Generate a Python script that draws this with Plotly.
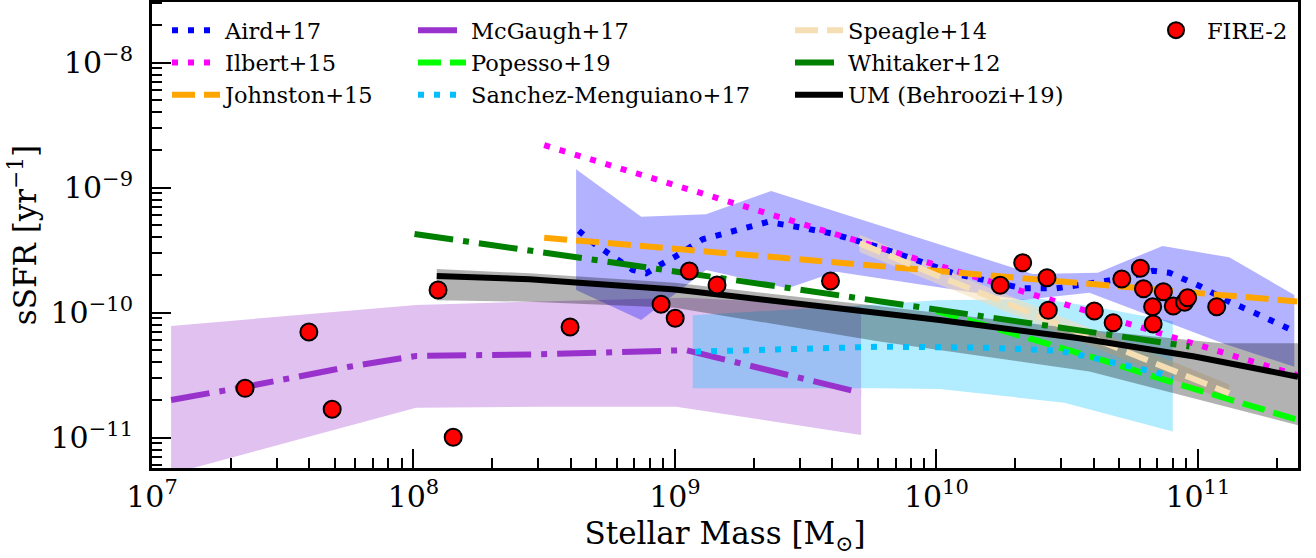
import plotly.graph_objects as go

FONT = "DejaVu Serif"

# ---------------- data (log10 stellar mass, log10 sSFR) ----------------
AIRD_LOGM = [8.632, 8.686, 8.839, 8.890, 8.947, 9.001, 9.106, 9.170, 9.355, 9.476, 9.597, 9.782,
             10.075, 10.330, 10.458, 10.585, 10.712, 10.827, 10.891, 11.006, 11.120, 11.235, 11.350, 11.381]
AIRD_LOGS = [-9.344, -9.44, -9.658, -9.685, -9.613, -9.552, -9.413, -9.378, -9.274, -9.317, -9.365, -9.477,
             -9.69, -9.805, -9.805, -9.766, -9.725, -9.664, -9.68, -9.786, -9.912, -10.018, -10.13, -10.16]
AIRD_UP_LOGM = [8.622, 8.871, 9.119, 9.368, 10.368, 10.617, 10.865, 11.120, 11.369]
AIRD_UP_LOGS = [-8.853, -9.232, -9.213, -9.026, -9.69, -9.68, -9.466, -9.557, -9.858]
AIRD_LO_LOGM = [8.622, 8.871, 9.119, 9.431, 9.617, 9.782, 10.329, 10.585, 11.095, 11.369]
AIRD_LO_LOGS = [-9.818, -10.058, -9.658, -9.805, -9.672, -9.725, -9.898, -9.84, -10.245, -10.432]

ILBERT_LOGM = [8.50, 9.00, 10.00, 11.00, 11.38]
ILBERT_LOGS = [-8.66, -8.98, -9.62, -10.26, -10.50]

JOHNSTON_LOGM = [8.50, 9.00, 10.00, 11.00, 11.38]
JOHNSTON_LOGS = [-9.40, -9.49, -9.66, -9.84, -9.91]

MCGAUGH_LOGM = [7.073, 7.360, 7.755, 8.010, 8.482, 9.043, 9.712]
MCGAUGH_LOGS = [-10.698, -10.592, -10.432, -10.346, -10.333, -10.30, -10.64]
MCGAUGH_UP_LOGM = [7.073, 8.010, 8.482, 9.043, 9.712]
MCGAUGH_UP_LOGS = [-10.106, -9.938, -9.91, -9.88, -9.95]
MCGAUGH_LO_LOGM = [7.073, 8.010, 8.482, 9.005, 9.712]
MCGAUGH_LO_LOGS = [-11.29, -10.76, -10.752, -10.752, -10.978]

POPESSO_LOGM = [10.00, 10.40, 10.642, 10.885, 11.12, 11.383]
POPESSO_LOGS = [-9.985, -10.232, -10.384, -10.546, -10.693, -10.858]

SANCHEZ_LOGM = [9.077, 9.50, 9.782, 10.20, 10.470, 10.597, 10.725, 10.853, 10.904]
SANCHEZ_LOGS = [-10.312, -10.29, -10.272, -10.28, -10.304, -10.36, -10.426, -10.485, -10.525]
SANCHEZ_UP_LOGM = [9.068, 9.50, 9.80, 10.00, 10.40, 10.60, 10.904]
SANCHEZ_UP_LOGS = [-10.02, -9.97, -9.93, -9.90, -9.89, -9.95, -10.07]
SANCHEZ_LO_LOGM = [9.068, 9.782, 10.012, 10.489, 10.904]
SANCHEZ_LO_LOGS = [-10.605, -10.605, -10.61, -10.72, -10.95]

SPEAGLE_LOGM = [9.706, 10.00, 10.50, 11.120]
SPEAGLE_LOGS = [-9.445, -9.70, -10.12, -10.645]
SPEAGLE_UP_LOGS = [-9.375, -9.63, -10.05, -10.575]
SPEAGLE_LO_LOGS = [-9.515, -9.77, -10.19, -10.715]

WHITAKER_LOGM = [8.004, 8.444, 9.00, 9.82, 10.40, 10.904, 10.968]
WHITAKER_LOGS = [-9.37, -9.498, -9.67, -9.92, -10.10, -10.245, -10.27]

UM_LOGM = [8.089, 8.444, 9.00, 9.782, 10.012, 10.547, 10.987, 11.383]
UM_LOGS = [-9.706, -9.733, -9.815, -10.00, -10.058, -10.205, -10.35, -10.512]
UM_UP_LOGM = [8.089, 8.444, 9.00, 9.782, 10.547, 11.09, 11.383]
UM_UP_LOGS = [-9.65, -9.685, -9.76, -9.95, -10.13, -10.245, -10.245]
UM_LO_LOGM = [8.089, 8.444, 9.00, 9.782, 10.585, 11.383]
UM_LO_LOGS = [-9.90, -9.912, -9.96, -10.23, -10.47, -10.90]

FIRE_LOGM = [7.356, 7.600, 7.689, 8.094, 8.152, 8.599, 8.947, 9.001, 9.055, 9.161, 9.595,
             10.244, 10.330, 10.423, 10.428, 10.604, 10.676, 10.709, 10.780, 10.792, 10.827,
             10.829, 10.868, 10.906, 10.949, 10.961, 11.072]
FIRE_LOGS = [-10.605, -10.154, -10.773, -9.818, -10.997, -10.114, -9.933, -10.045, -9.666, -9.778, -9.746,
             -9.781, -9.60, -9.72, -9.981, -9.986, -10.08, -9.73, -9.645, -9.808, -9.952,
             -10.09, -9.832, -9.946, -9.917, -9.88, -9.952]

X_RANGE_LOG = [7.0, 11.383]
Y_RANGE_LOG = [-11.2424, -7.5144]
X_DECADES = [7, 8, 9, 10, 11]
Y_DECADES = [-11, -10, -9, -8]
Y_MINOR_DECADES = [-12, -11, -10, -9, -8]


def lin(vals):
    return [10.0 ** v for v in vals]


def pow_label(e):
    s = str(e).replace("-", "\u2212")
    return "10<sup>" + s + "</sup>"


DOT = "6px,10px"
DASH = "23px,9px"
DASHDOT = "39px,10px,6px,10px"
LW = 6

fig = go.Figure()


def add_band(xu, yu, xl, yl, color):
    fig.add_trace(go.Scatter(
        x=lin(xu) + lin(xl)[::-1], y=lin(yu) + lin(yl)[::-1],
        mode="lines", fill="toself", fillcolor=color, line=dict(width=0),
        showlegend=False, hoverinfo="skip"))


def add_line(xm, ys, name, color, dash, legend):
    fig.add_trace(go.Scatter(
        x=lin(xm), y=lin(ys), mode="lines", name=name,
        line=dict(color=color, width=LW, dash=dash), legend=legend))


# bands
add_band(MCGAUGH_UP_LOGM, MCGAUGH_UP_LOGS, MCGAUGH_LO_LOGM, MCGAUGH_LO_LOGS, "rgba(153,50,204,0.3)")
add_band(SANCHEZ_UP_LOGM, SANCHEZ_UP_LOGS, SANCHEZ_LO_LOGM, SANCHEZ_LO_LOGS, "rgba(0,191,255,0.3)")
add_band(AIRD_UP_LOGM, AIRD_UP_LOGS, AIRD_LO_LOGM, AIRD_LO_LOGS, "rgba(0,0,255,0.3)")
add_band(SPEAGLE_LOGM, SPEAGLE_UP_LOGS, SPEAGLE_LOGM, SPEAGLE_LO_LOGS, "rgba(245,222,179,0.55)")
add_band(UM_UP_LOGM, UM_UP_LOGS, UM_LO_LOGM, UM_LO_LOGS, "rgba(0,0,0,0.3)")

# lines
add_line(AIRD_LOGM, AIRD_LOGS, "Aird+17", "blue", DOT, "legend")
add_line(ILBERT_LOGM, ILBERT_LOGS, "Ilbert+15", "magenta", DOT, "legend")
add_line(JOHNSTON_LOGM, JOHNSTON_LOGS, "Johnston+15", "orange", DASH, "legend")
add_line(MCGAUGH_LOGM, MCGAUGH_LOGS, "McGaugh+17", "darkorchid", DASHDOT, "legend2")
add_line(POPESSO_LOGM, POPESSO_LOGS, "Popesso+19", "lime", DASH, "legend2")
add_line(SANCHEZ_LOGM, SANCHEZ_LOGS, "Sanchez-Menguiano+17", "deepskyblue", DOT, "legend2")
add_line(SPEAGLE_LOGM, SPEAGLE_LOGS, "Speagle+14", "wheat", DASH, "legend3")
add_line(WHITAKER_LOGM, WHITAKER_LOGS, "Whitaker+12", "green", DASHDOT, "legend3")
add_line(UM_LOGM, UM_LOGS, "UM (Behroozi+19)", "black", "solid", "legend3")

fig.add_trace(go.Scatter(
    x=lin(FIRE_LOGM), y=lin(FIRE_LOGS), mode="markers", name="FIRE-2",
    marker=dict(color="red", size=17, line=dict(color="black", width=2)),
    legend="legend4"))

minor_x = [m * 10.0 ** d for d in X_DECADES for m in range(2, 10)]
minor_y = [m * 10.0 ** d for d in Y_MINOR_DECADES for m in range(2, 10)]

axis_common = dict(
    type="log", showgrid=False, zeroline=False, automargin=False,
    showline=True, linewidth=3, linecolor="black", mirror=True,
    ticks="inside", ticklen=19, tickwidth=2, tickcolor="black",
    tickmode="array",
    tickfont=dict(family=FONT, size=30, color="black"),
)

fig.update_xaxes(
    range=X_RANGE_LOG, **axis_common,
    tickvals=[10.0 ** d for d in X_DECADES], ticktext=[pow_label(d) for d in X_DECADES],
    minor=dict(tickvals=minor_x, ticks="inside", ticklen=10, tickwidth=1.5, tickcolor="black", showgrid=False),
    ticklabelstandoff=0,
    title=dict(text="Stellar Mass [M<sub>⊙</sub>]", font=dict(family=FONT, size=31, color="black"), standoff=10),
)
fig.update_yaxes(
    range=Y_RANGE_LOG, **axis_common,
    tickvals=[10.0 ** d for d in Y_DECADES], ticktext=[pow_label(d) for d in Y_DECADES],
    minor=dict(tickvals=minor_y, ticks="inside", ticklen=10, tickwidth=1.5, tickcolor="black", showgrid=False),
    ticklabelstandoff=10,
    title=dict(text="sSFR [yr<sup>−1</sup>]", font=dict(family=FONT, size=31, color="black"), standoff=5),
)

PLOT_L, PLOT_R, PLOT_T, PLOT_B = 152, 1298, 2, 468
W, H = 1316, 558


def px2paper_x(px):
    return (px - PLOT_L) / (PLOT_R - PLOT_L)


def px2paper_y(py):
    return (PLOT_B - py) / (PLOT_B - PLOT_T)


leg_common = dict(font=dict(family=FONT, size=22.5, color="black"), bgcolor="rgba(0,0,0,0)",
                  borderwidth=0, xanchor="left", yanchor="top", orientation="v", traceorder="normal")

fig.update_layout(
    width=W, height=H,
    margin=dict(l=PLOT_L, r=W - PLOT_R, t=PLOT_T, b=H - PLOT_B, pad=0, autoexpand=False),
    paper_bgcolor="white", plot_bgcolor="white",
    font=dict(family=FONT, color="black"),
    legend=dict(x=px2paper_x(167), y=px2paper_y(9), itemwidth=48, **leg_common),
    legend2=dict(x=px2paper_x(413), y=px2paper_y(9), itemwidth=48, **leg_common),
    legend3=dict(x=px2paper_x(790), y=px2paper_y(9), itemwidth=48, **leg_common),
    legend4=dict(x=px2paper_x(1145), y=px2paper_y(9), itemwidth=52, **leg_common),
)

fig.write_html(
    "out.html",
    config={"displayModeBar": False},
    post_script="document.body.style.margin='0px';document.body.style.padding='0px';",
)
